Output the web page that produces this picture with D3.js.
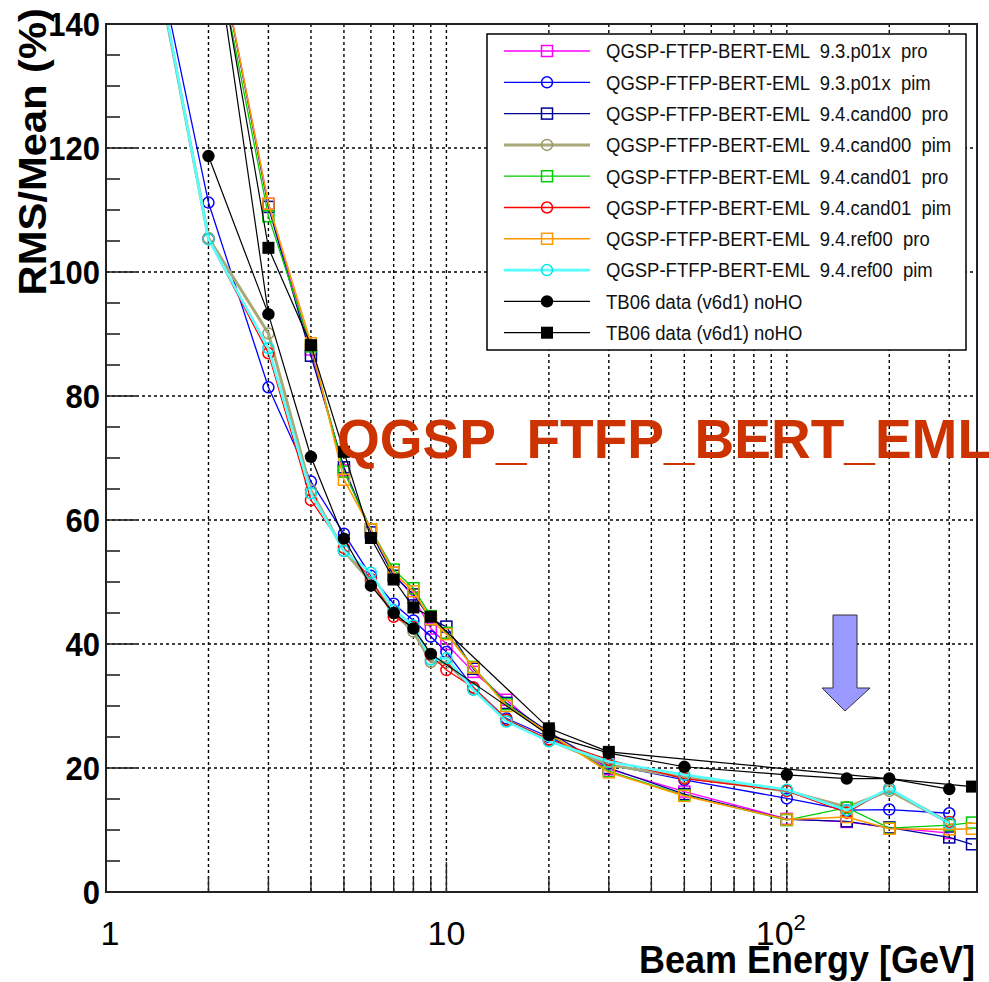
<!DOCTYPE html>
<html><head><meta charset="utf-8">
<script src="https://cdn.jsdelivr.net/npm/d3@7"></script>
<style>body{margin:0;background:#fff} text{font-family:"Liberation Sans",Arial,sans-serif}</style>
</head><body><svg id="c" width="989" height="982"></svg>
<script>
// ---------------- DATA ----------------
const proEnergies = [2,3,4,5,6,7,8,9,10,12,15,20,30,50,100,150,200,300,350];
const pimEnergies = [1,2,3,4,5,6,7,8,9,10,12,15,20,30,50,100,150,200,300];

const p93pro   = [160,111,87.5,68,58.5,51.5,47.5,42.5,40,35.5,31,25.2,19.8,16.2,11.8,11.3,10.4,9.5,null];
const p93pim   = [190,111.2,81.4,66.2,57.8,51,46.5,43.8,41.2,38.7,33,28,25,20.6,18.1,15.1,13.2,13.3,12.7];
const c00pro   = [160,110.5,86.5,68.5,58,51,48,44,42.8,36,30.5,25.8,20,15.8,11.7,11.4,10.4,8.8,7.7];
const c00pim   = [192,105.5,90.1,64.8,55,50,45,42,37.1,37,32.8,27.7,24.5,20.5,18.5,16.3,13.7,16.3,11.2];
const c01pro   = [158,109,88,67.8,58.5,52,49,44.5,41.8,36.3,30.3,25.5,19.5,15.6,11.6,13.6,10.3,10.8,11.2];
const c01pim   = [192,105.3,86.9,63.2,55.5,50.5,44.4,42.8,38.2,35.8,33,27.8,24.6,21.3,18.3,16.3,12.8,16.7,11.3];
const r00pro   = [160,111,88.5,66.5,58.5,51.5,48.5,44,41.6,36.2,30,25.6,19.3,15.5,11.7,12.1,10.2,10.1,10.2];
const r00pim   = [193,105.3,87.7,64.3,55,51.5,45.5,43,37.5,37.7,32.6,27.5,24.3,21.0,18.9,16.5,13.2,16.7,11.1];

const dataCircE = [2,3,4,5,6,7,8,9,20,30,50,100,150,200,300];
const dataCirc  = [118.7,93.2,70.2,57.0,49.4,45.0,42.5,38.4,25.3,22.4,20.2,18.9,18.3,18.3,16.6];
const dataSqE   = [2,3,4,5,6,7,8,9,20,30,350];
const dataSq    = [160,103.9,88.2,71,57.1,50.4,45.9,44.4,26.4,22.6,17.0];
const dataExtraE = [2,3];
const dataExtra  = [160,93.2];

const legendLabels = [
  "QGSP-FTFP-BERT-EML  9.3.p01x  pro",
  "QGSP-FTFP-BERT-EML  9.3.p01x  pim",
  "QGSP-FTFP-BERT-EML  9.4.cand00  pro",
  "QGSP-FTFP-BERT-EML  9.4.cand00  pim",
  "QGSP-FTFP-BERT-EML  9.4.cand01  pro",
  "QGSP-FTFP-BERT-EML  9.4.cand01  pim",
  "QGSP-FTFP-BERT-EML  9.4.ref00  pro",
  "QGSP-FTFP-BERT-EML  9.4.ref00  pim",
  "TB06 data (v6d1) noHO",
  "TB06 data (v6d1) noHO"
];
const yTickValues = [0,20,40,60,80,100,120,140];
const xMajorTicks = [1,10,100];
const xMajorLabels = ["1","10","10"];
const xTitle = "Beam Energy [GeV]";
const yTitle = "RMS/Mean (%)";
const annotation = "QGSP_FTFP_BERT_EML";

// ---------------- STYLE / LAYOUT ----------------
const series = [
  {E:proEnergies, v:p93pro, color:"#ff00ff", w:1.3, m:"sq"},
  {E:pimEnergies, v:p93pim, color:"#0000ff", w:1.3, m:"ci"},
  {E:proEnergies, v:c00pro, color:"#000099", w:1.3, m:"sq"},
  {E:pimEnergies, v:c00pim, color:"#a8a878", w:3, m:"ci", mc:"#999966"},
  {E:proEnergies, v:c01pro, color:"#00cc00", w:1.3, m:"sq"},
  {E:pimEnergies, v:c01pim, color:"#ff0000", w:1.3, m:"ci"},
  {E:proEnergies, v:r00pro, color:"#ff9900", w:1.6, m:"sq"},
  {E:pimEnergies, v:r00pim, color:"#55ffff", w:2.6, m:"ci", mc:"#00e5e5"},
  {E:dataCircE, v:dataCirc, color:"#000", w:1.2, m:"fci"},
  {E:dataSqE, v:dataSq, color:"#000", w:1.2, m:"fsq"}
];

const L=106, R=977, T=24, B=892;
const svg = d3.select("#c");
const x = d3.scaleLog().domain([1,362]).range([L,R]);
const y = d3.scaleLinear().domain([0,140]).range([B,T]);

svg.append("defs").append("clipPath").attr("id","pc")
  .append("rect").attr("x",L).attr("y",T).attr("width",R-L).attr("height",B-T);

// grid
const xGrid = x.ticks().filter(d=>d>1 && d<362);
svg.append("g").selectAll("line").data(xGrid).join("line")
  .attr("x1",d=>x(d)).attr("x2",d=>x(d)).attr("y1",T).attr("y2",B)
  .attr("stroke","#000").attr("stroke-width",1.4).attr("stroke-dasharray","3,3");
svg.append("g").selectAll("line").data(yTickValues.filter(d=>d>0&&d<140)).join("line")
  .attr("x1",L).attr("x2",R).attr("y1",d=>y(d)).attr("y2",d=>y(d))
  .attr("stroke","#000").attr("stroke-width",1.4).attr("stroke-dasharray","3,3");

// ticks
const yMinor = d3.range(0,141,5).filter(d=>d%20!==0);
svg.append("g").selectAll("line").data(yMinor).join("line")
  .attr("x1",L).attr("x2",L+14).attr("y1",d=>y(d)).attr("y2",d=>y(d)).attr("stroke","#222").attr("stroke-width",1.6);
svg.append("g").selectAll("line").data(yTickValues).join("line")
  .attr("x1",L).attr("x2",L+30).attr("y1",d=>y(d)).attr("y2",d=>y(d)).attr("stroke","#222").attr("stroke-width",1.6);
svg.append("g").selectAll("line").data(xGrid).join("line")
  .attr("x1",d=>x(d)).attr("x2",d=>x(d)).attr("y1",B).attr("y2",d=>xMajorTicks.includes(d)?B-30:B-15)
  .attr("stroke","#222").attr("stroke-width",1.4);

// series
const plot = svg.append("g").attr("clip-path","url(#pc)");
const line = d3.line().defined(d=>d.v!=null).x(d=>x(d.e)).y(d=>y(d.v));
const pts = s => s.E.map((e,i)=>({e, v:s.v[i]}));

plot.append("path").datum(dataExtraE.map((e,i)=>({e,v:dataExtra[i]})))
  .attr("d",line).attr("fill","none").attr("stroke","#000").attr("stroke-width",1.2);

function marker(g, s, cx, cy){
  const c = s.mc || s.color;
  if(s.m==="sq") g.append("rect").attr("x",cx-5.5).attr("y",cy-5.5).attr("width",11).attr("height",11)
      .attr("fill","none").attr("stroke",c).attr("stroke-width",1.5);
  else if(s.m==="ci") g.append("circle").attr("cx",cx).attr("cy",cy).attr("r",5.5)
      .attr("fill","none").attr("stroke",c).attr("stroke-width",1.5);
  else if(s.m==="fci") g.append("circle").attr("cx",cx).attr("cy",cy).attr("r",6.2).attr("fill","#000");
  else g.append("rect").attr("x",cx-6).attr("y",cy-6).attr("width",12).attr("height",12).attr("fill","#000");
}

series.forEach(s=>{
  const p = pts(s);
  plot.append("path").datum(p).attr("d",line).attr("fill","none")
    .attr("stroke",s.color).attr("stroke-width",s.w);
  const g = plot.append("g");
  p.filter(d=>d.v!=null).forEach(d=>marker(g,s,x(d.e),y(d.v)));
});

// frame
svg.append("rect").attr("x",L).attr("y",T).attr("width",R-L).attr("height",B-T)
  .attr("fill","none").attr("stroke","#222").attr("stroke-width",2);

// y labels
svg.append("g").selectAll("text").data(yTickValues).join("text")
  .attr("transform",d=>`translate(100,${y(d)}) scale(1,1.08)`)
  .attr("dy","0.36em").attr("text-anchor","end")
  .attr("font-size",31).attr("font-weight","bold").text(d=>d);

// x labels
const xl = svg.append("g");
xMajorTicks.forEach((t,i)=>{
  const tx = xl.append("text").attr("x",x(t)+(i===0?4:(i===2?-6:0))).attr("y",945)
    .attr("text-anchor","middle").attr("font-size",34).text(xMajorLabels[i]);
  if(i===2) tx.append("tspan").attr("dy",-15).attr("font-size",22).text("2");
});

// axis titles
svg.append("text").attr("transform","translate(975,973) scale(1,1.06)").attr("text-anchor","end")
  .attr("font-size",36).attr("font-weight","bold").text(xTitle);
svg.append("text").attr("transform","translate(46,8) rotate(-90) scale(1.07,1)").attr("text-anchor","end")
  .attr("font-size",39).attr("font-weight","bold").text(yTitle);

// annotation
svg.append("text").attr("x",337).attr("y",458).attr("font-size",55).attr("font-weight","bold")
  .attr("fill","#cc3300").text(annotation);

// arrow
svg.append("path").attr("d",[[833,615],[857,615],[857,688],[870,688],[845,711],[822,688],[833,688]].map((p,i)=>(i?"L":"M")+p).join("")+"Z")
  .attr("fill","#9999ff").attr("stroke","#333").attr("stroke-width",1);

// legend
const lg = svg.append("g");
lg.append("rect").attr("x",487).attr("y",34).attr("width",479).attr("height",316)
  .attr("fill","#fff").attr("stroke","#000").attr("stroke-width",1.5);
legendLabels.forEach((lab,i)=>{
  const s = series[i], cy = 51 + i*31.3;
  lg.append("line").attr("x1",504).attr("x2",590).attr("y1",cy).attr("y2",cy)
    .attr("stroke",s.color).attr("stroke-width",s.w);
  marker(lg,s,547,cy);
  lg.append("text").attr("transform",`translate(606,${cy}) scale(1,1.1)`).attr("dy","0.36em").attr("font-size",18.5)
    .style("white-space","pre").attr("fill","#111").text(lab);
});
</script></body></html>
